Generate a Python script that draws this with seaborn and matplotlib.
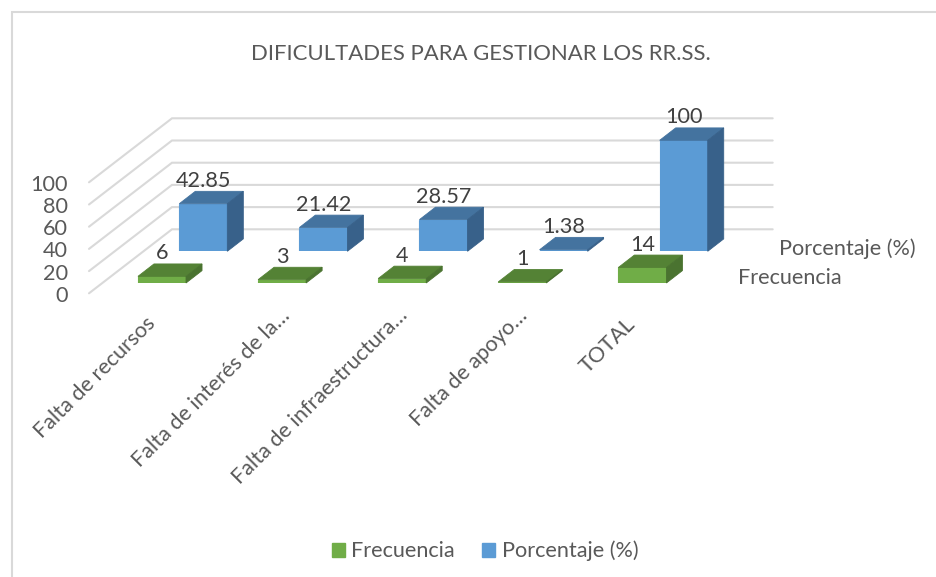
import matplotlib
matplotlib.use("Agg")
import matplotlib.pyplot as plt
from matplotlib.patches import Patch, Polygon
from matplotlib.transforms import ScaledTranslation
import pandas as pd
import seaborn as sns

categories = ["Falta de recursos", "Falta de interés de la…", "Falta de infraestructura…", "Falta de apoyo…", "TOTAL"]
frecuencia = [6, 3, 4, 1, 14]
porcentaje = [42.85, 21.42, 28.57, 1.38, 100]
frec_labels = ["6", "3", "4", "1", "14"]
pct_labels = ["42.85", "21.42", "28.57", "1.38", "100"]
value_ticks = [0, 20, 40, 60, 80, 100]
title = "DIFICULTADES PARA GESTIONAR LOS RR.SS."

W, H = 936, 577
PX_PER_UNIT = 1.11
BAND = 120.1
DEPTH_X, DEPTH_Y = 16.0, 12.4
FS = 15.6
LABEL_NUDGE_PX = [(-17, 3), (-2, 11), (-5, 11), (-5, 11), (-17, 2)]

sns.set_theme(style="white")
plt.rcParams["font.family"] = ["Lato", "DejaVu Sans"]
TEXT = "#595959"
LABEL = "#404040"
GRID = "#D9D9D9"

df = pd.DataFrame({"cat": categories, "Frecuencia": frecuencia, "Porcentaje": porcentaje})
fig = plt.figure(figsize=(W / 100, H / 100), dpi=100, facecolor="white")


def axes_px(left, right, top, bottom):
    return fig.add_axes([left / W, 1 - bottom / H, (right - left) / W, (bottom - top) / H])


# page layer in pixel coordinates: frame, walls
base = axes_px(0, W, 0, H)
base.set_xlim(0, W)
base.set_ylim(H, 0)
base.axis("off")
base.plot([12, 12, W], [H, 12, 12], color=GRID, lw=1.5, solid_joinstyle="miter")

BACK_X0, BACK_X1, BACK_BASE = 172.0, 772.7, 229.3
FRONT_X0, FRONT_BASE = 89.0, 293.3
for v in value_ticks:
    yb = BACK_BASE - v * PX_PER_UNIT
    yf = FRONT_BASE - v * PX_PER_UNIT
    base.plot([FRONT_X0, BACK_X0, BACK_X1], [yf, yb, yb], color=GRID, lw=1.5, solid_joinstyle="miter")
    base.text(FRONT_X0 - 21, yf + 2.5, str(v), ha="right", va="center", fontsize=FS, color=TEXT)

base.text(480.5, 54, title, ha="center", va="center", fontsize=15.9, color=TEXT)
base.text(779, 248.5, "Porcentaje (%)", ha="left", va="center", fontsize=FS, color=TEXT)
base.text(738, 278.5, "Frecuencia", ha="left", va="center", fontsize=FS, color=TEXT)


def bars_3d(column, left, baseline, front, top_c, side_c, labels, show_ticks):
    ax = axes_px(left, left + 5 * BAND, baseline - 100 * PX_PER_UNIT, baseline)
    ax.patch.set_alpha(0)
    sns.barplot(data=df, x="cat", y=column, color=front, saturation=1, width=0.4, ax=ax,
                linewidth=0.8, edgecolor=front)
    ax.set_xlim(-0.5, 4.5)
    ax.set_ylim(0, 100)
    ax.set_xlabel("")
    ax.set_ylabel("")
    ax.set_yticks([])
    sns.despine(ax=ax, left=True, bottom=True)
    dx = DEPTH_X / BAND
    dy = DEPTH_Y / PX_PER_UNIT
    for p, text in zip(ax.patches, labels):
        x0, x1, h = p.get_x(), p.get_x() + p.get_width(), p.get_height()
        ax.add_patch(Polygon([(x0, h), (x1, h), (x1 + dx, h + dy), (x0 + dx, h + dy)],
                             fc=top_c, ec=top_c, lw=0.6, clip_on=False, zorder=3))
        ax.add_patch(Polygon([(x1, 0), (x1 + dx, dy), (x1 + dx, h + dy), (x1, h)],
                             fc=side_c, ec=side_c, lw=0.6, clip_on=False, zorder=3))
        ax.annotate(text, (x0 + (x1 - x0) / 2, h), xytext=(0, 16.5), textcoords="offset points",
                    ha="center", va="center", fontsize=FS, color=LABEL, annotation_clip=False)
    if show_ticks:
        ax.set_xticks(range(5))
        ax.set_xticklabels(categories, rotation=45, ha="right", rotation_mode="anchor",
                           fontsize=FS, color=TEXT)
        ax.tick_params(axis="x", length=0, pad=24)
        for lab, (nx, ny) in zip(ax.get_xticklabels(), LABEL_NUDGE_PX):
            lab.set_transform(lab.get_transform() + ScaledTranslation(nx / 100, ny / 100, fig.dpi_scale_trans))
    else:
        ax.set_xticks([])
    return ax


bars_3d("Porcentaje", 179.3 - 36.05, 251.3, "#5B9BD5", "#44739F", "#38618A", pct_labels, False)
bars_3d("Frecuencia", 138.0 - 36.05, 283.0, "#70AD47", "#548235", "#4A7330", frec_labels, True)

handles = [Patch(color="#70AD47", label="Frecuencia"), Patch(color="#5B9BD5", label="Porcentaje (%)")]
leg = fig.legend(handles=handles, ncol=2, loc="center", bbox_to_anchor=(485 / W, 1 - 551 / H), frameon=False,
                 fontsize=FS, handlelength=0.6, handleheight=0.6, handletextpad=0.3, columnspacing=1.25,
                 labelcolor=TEXT)

fig.savefig("out.png", dpi=100)
